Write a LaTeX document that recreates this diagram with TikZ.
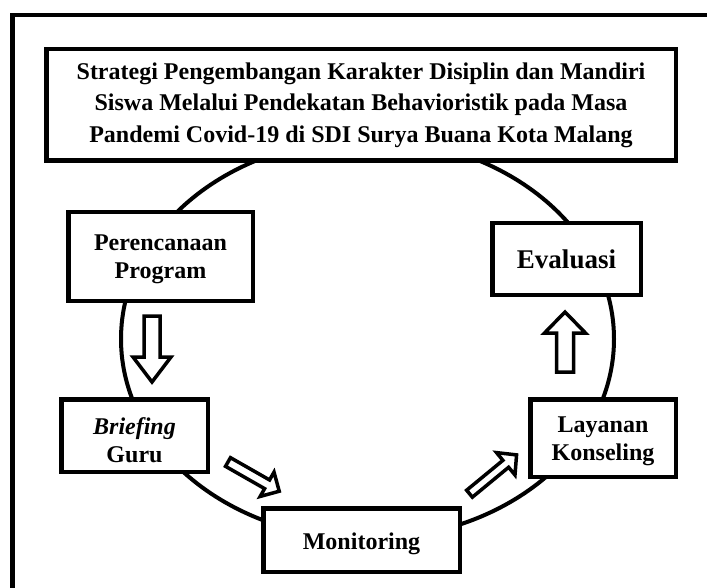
\documentclass[tikz,border=0pt]{standalone}
\usepackage{fontspec}
\setmainfont{Liberation Serif}
\newcommand\hollowarrow[7]{%
  \begin{scope}[shift={(#1,#2)},x=1pt,y=1pt,rotate=#3]
    \draw[arrowline] (0,-#6) -- (#4-#5,-#6) -- (#4-#5,-#7) -- (#4,0) -- (#4-#5,#7) -- (#4-#5,#6) -- (0,#6) -- cycle;
  \end{scope}}
\newcommand\topstrut[1]{\rule{0pt}{#1}}
\tikzset{
  box/.style={draw, line width=4.5pt, fill=white, inner sep=0pt, align=center,
    font=\fontsize{24}{28}\selectfont\bfseries},
  arrowline/.style={draw, line width=3.5pt, fill=white, line join=miter},
}
\begin{document}
\begin{tikzpicture}[x=1pt,y=-1pt]
\useasboundingbox (0,0) rectangle (707,588);
\clip (0,0) rectangle (707,588);
\draw[line width=4.5pt] (12.5,15) rectangle (760,640);
\draw[line width=4pt] (367.5,339) ellipse [x radius=246.5pt, y radius=200pt];
\node[box, minimum width=629.5pt, minimum height=111.5pt, font=\fontsize{24}{31.5}\selectfont\bfseries] (title) at (361,105)
  {Strategi Pengembangan Karakter Disiplin dan Mandiri\\Siswa Melalui Pendekatan Behavioristik pada Masa\\Pandemi Covid-19 di SDI Surya Buana Kota Malang};
\node[box, minimum width=184.5pt, minimum height=88.5pt] (plan) at (160.5,256.5) {\topstrut{22pt}Perencanaan\\Program};
\node[box, minimum width=148.5pt, minimum height=71.5pt, font=\fontsize{27}{30}\selectfont\bfseries] (eval) at (566.5,259) {Evaluasi};
\node[box, minimum width=146.5pt, minimum height=72.5pt] (brief) at (134.5,435.5) {\topstrut{26pt}\textit{Briefing}\\Guru};
\node[box, minimum width=145.5pt, minimum height=77.5pt] (lay) at (603,438) {\topstrut{23pt}Layanan\\Konseling};
\node[box, minimum width=196.5pt, minimum height=63.5pt] (mon) at (361.5,540) {\topstrut{24pt}Monitoring};
\hollowarrow{152}{316}{-90}{66}{25}{8}{19}
\hollowarrow{565}{372}{90}{60}{21}{8.5}{20.5}
\hollowarrow{228}{462}{-29.7}{59}{14}{5}{14}
\hollowarrow{469.5}{493.7}{39.5}{61}{14}{4.5}{14.5}
\end{tikzpicture}
\end{document}
